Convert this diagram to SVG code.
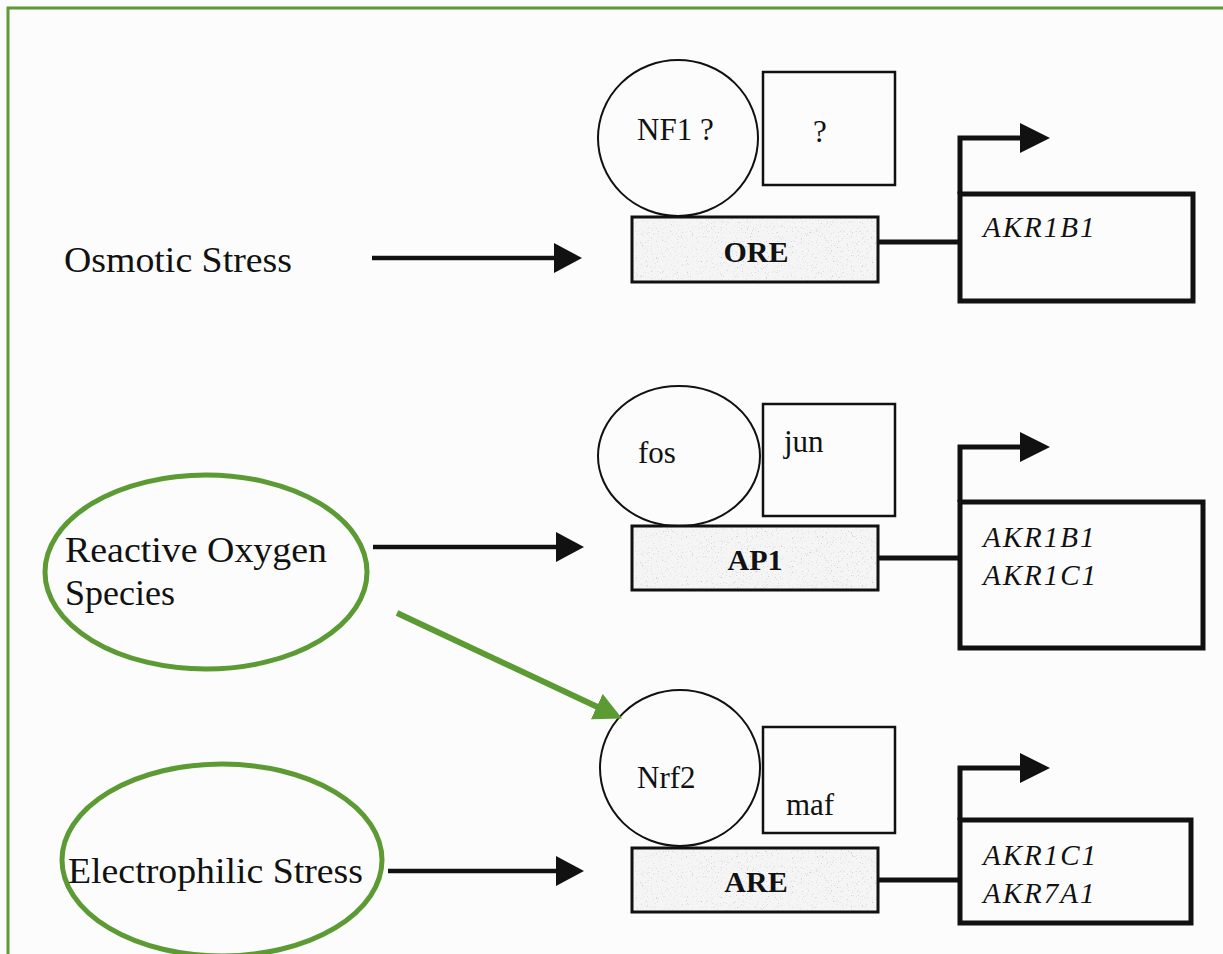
<svg xmlns="http://www.w3.org/2000/svg" width="1223" height="954" viewBox="0 0 1223 954">
  <defs>
    <style>
      .lbl { font-family: "Liberation Serif", "Times New Roman", serif; font-size: 36px; fill: #111; }
      .prot { font-family: "Liberation Serif", "Times New Roman", serif; font-size: 31px; fill: #111; }
      .elem { font-family: "Liberation Serif", "Times New Roman", serif; font-size: 30px; font-weight: bold; fill: #111; text-anchor: middle; }
      .gene { font-family: "Liberation Serif", "Times New Roman", serif; font-size: 29px; font-style: italic; fill: #111; letter-spacing: 2px; }
      .protein { fill: none; stroke: #111; stroke-width: 2; }
      .partner { fill: none; stroke: #111; stroke-width: 2.5; }
      .element-box { fill: none; stroke: #111; stroke-width: 3; }
      .gene-box { fill: none; stroke: #111; stroke-width: 5; }
      .wire { fill: none; stroke: #111; stroke-width: 5; }
      .stress-arrow { fill: none; stroke: #111; stroke-width: 4.5; marker-end: url(#head); }
      .tss { fill: none; stroke: #111; stroke-width: 5; stroke-linejoin: miter; marker-end: url(#tssHead); }
      .highlight { fill: none; stroke: #5c9a34; stroke-width: 5; }
      .hl-arrow { fill: none; stroke: #5c9a34; stroke-width: 6; marker-end: url(#greenHead); }
    </style>
    <marker id="head" viewBox="0 0 28 30" refX="8" refY="15" markerWidth="28" markerHeight="30" markerUnits="userSpaceOnUse" orient="auto">
      <path d="M0,0 L28,15 L0,30 Z" fill="#111"/>
    </marker>
    <marker id="tssHead" viewBox="0 0 30 30" refX="10" refY="15" markerWidth="30" markerHeight="30" markerUnits="userSpaceOnUse" orient="auto">
      <path d="M0,0 L30,15 L0,30 Z" fill="#111"/>
    </marker>
    <marker id="greenHead" viewBox="0 0 28 28" refX="8" refY="14" markerWidth="28" markerHeight="28" markerUnits="userSpaceOnUse" orient="auto">
      <path d="M0,0 L28,14 L0,28 Z" fill="#5c9a34"/>
    </marker>
    <!-- light grey stipple used for the response-element boxes -->
    <filter id="stipple" x="0" y="0" width="1" height="1">
      <feTurbulence type="fractalNoise" baseFrequency="0.8" numOctaves="2" seed="7" result="noise"/>
      <feColorMatrix in="noise" type="matrix" values="0 0 0 0 0.55  0 0 0 0 0.55  0 0 0 0 0.55  4 0 0 0 -2.45" result="dots"/>
      <feFlood flood-color="#f5f5f5" result="paper"/>
      <feComposite in="dots" in2="paper" operator="over"/>
    </filter>
  </defs>

  <rect x="0" y="0" width="1223" height="954" fill="#fcfcfc"/>
  <rect x="8" y="8" width="1240" height="980" fill="none" stroke="#5c9a34" stroke-width="3"/>

  <!-- stimuli -->
  <g id="osmotic-stress">
    <text class="lbl" x="64" y="272" textLength="228" lengthAdjust="spacingAndGlyphs">Osmotic Stress</text>
  </g>
  <g id="reactive-oxygen-species">
    <ellipse class="highlight" cx="206" cy="572" rx="161" ry="97"/>
    <text class="lbl" x="65" y="562" textLength="262" lengthAdjust="spacingAndGlyphs">Reactive Oxygen</text>
    <text class="lbl" x="65" y="605">Species</text>
  </g>
  <g id="electrophilic-stress">
    <ellipse class="highlight" cx="222" cy="860" rx="160" ry="96"/>
    <text class="lbl" x="68" y="883" textLength="295" lengthAdjust="spacingAndGlyphs">Electrophilic Stress</text>
  </g>

  <!-- row 1: ORE -->
  <g id="nf1">
    <ellipse class="protein" cx="678" cy="138" rx="80" ry="78"/>
    <text class="prot" x="637" y="140">NF1 ?</text>
  </g>
  <g id="unknown-partner">
    <rect class="partner" x="763" y="72" width="132" height="113"/>
    <text class="prot" x="820" y="142" text-anchor="middle">?</text>
  </g>
  <g id="ore">
    <rect x="632" y="217" width="246" height="65" fill="#f5f5f5" filter="url(#stipple)"/>
    <rect class="element-box" x="632" y="217" width="246" height="65"/>
    <text class="elem" x="756" y="262">ORE</text>
  </g>
  <g id="gene-akr1b1">
    <rect class="gene-box" x="960" y="194" width="233" height="107"/>
    <text class="gene" x="983" y="237">AKR1B1</text>
  </g>

  <!-- row 2: AP1 -->
  <g id="fos">
    <ellipse class="protein" cx="679" cy="456" rx="81" ry="70"/>
    <text class="prot" x="638" y="463">fos</text>
  </g>
  <g id="jun">
    <rect class="partner" x="763" y="404" width="132" height="112"/>
    <text class="prot" x="784" y="452">jun</text>
  </g>
  <g id="ap1">
    <rect x="632" y="526" width="246" height="64" fill="#f5f5f5" filter="url(#stipple)"/>
    <rect class="element-box" x="632" y="526" width="246" height="64"/>
    <text class="elem" x="755" y="570">AP1</text>
  </g>
  <g id="gene-akr1b1-akr1c1">
    <rect class="gene-box" x="960" y="502" width="243" height="146"/>
    <text class="gene" x="983" y="547">AKR1B1</text>
    <text class="gene" x="983" y="585">AKR1C1</text>
  </g>

  <!-- row 3: ARE -->
  <g id="nrf2">
    <ellipse class="protein" cx="680" cy="768" rx="80" ry="78"/>
    <text class="prot" x="637" y="788">Nrf2</text>
  </g>
  <g id="maf">
    <rect class="partner" x="763" y="727" width="132" height="106"/>
    <text class="prot" x="786" y="815">maf</text>
  </g>
  <g id="are">
    <rect x="632" y="848" width="246" height="64" fill="#f5f5f5" filter="url(#stipple)"/>
    <rect class="element-box" x="632" y="848" width="246" height="64"/>
    <text class="elem" x="756" y="892">ARE</text>
  </g>
  <g id="gene-akr1c1-akr7a1">
    <rect class="gene-box" x="960" y="820" width="231" height="103"/>
    <text class="gene" x="983" y="865">AKR1C1</text>
    <text class="gene" x="983" y="903">AKR7A1</text>
  </g>

  <!-- connectors -->
  <g id="connectors">
    <line class="stress-arrow" x1="372" y1="258" x2="562" y2="258"/>
    <line class="stress-arrow" x1="373" y1="547" x2="564" y2="547"/>
    <line class="stress-arrow" x1="388" y1="871" x2="564" y2="871"/>
    <line class="hl-arrow" x1="397" y1="613" x2="604" y2="710"/>
    <path class="wire" d="M878,242 H960"/>
    <path class="wire" d="M878,558 H960"/>
    <path class="wire" d="M878,880 H960"/>
    <path class="tss" d="M960,194 V138 H1030"/>
    <path class="tss" d="M960,502 V447 H1030"/>
    <path class="tss" d="M960,820 V768 H1030"/>
  </g>
</svg>
